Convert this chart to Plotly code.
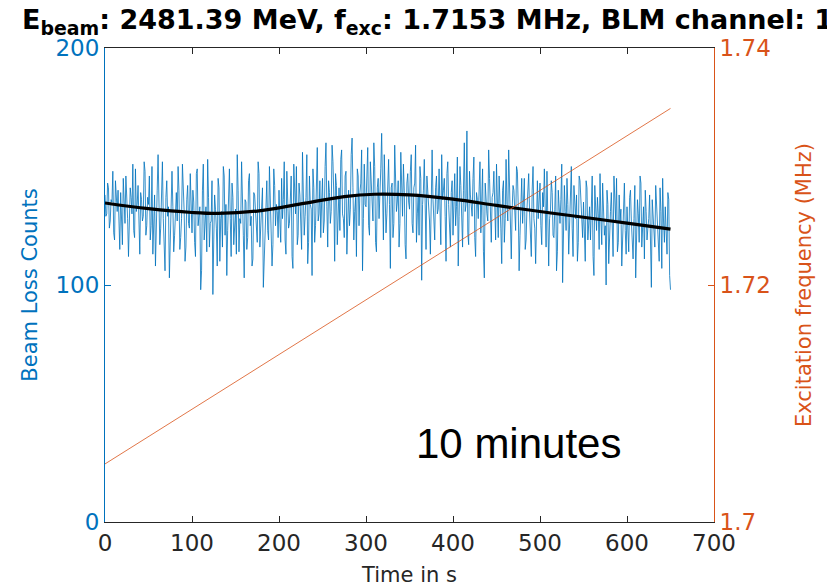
import plotly.graph_objects as go

# ---- data ----
# beam loss counts, sampled every second (even and odd seconds listed separately)
blm_even = [
    138, 130, 141, 127, 135, 122, 144, 131, 126, 139, 117, 133, 146, 128, 124, 137, 151, 120, 131, 142, 113, 136, 129, 148, 125,
    134, 119, 150, 127, 108, 140, 131, 124, 152, 118, 137, 129, 103, 145, 133, 121, 139, 150, 115, 128, 142, 110, 136, 126, 147,
    122, 135, 112, 149, 128, 98, 140, 119, 133, 153, 116, 127, 96, 138, 124, 145, 110, 131, 150, 121, 104, 136, 128, 143, 117,
    132, 155, 114, 126, 141, 103, 135, 120, 147, 129, 111, 138, 124, 152, 116, 133, 99, 127, 144, 119, 136, 108, 149, 125, 131,
    140, 118, 128, 152, 113, 137, 126, 146, 107, 133, 150, 121, 138, 115, 143, 129, 155, 118, 134, 104, 141, 125, 158, 130, 120,
    145, 127, 160, 116, 139, 131, 152, 110, 142, 135, 123, 157, 128, 146, 113, 140, 132, 162, 119, 137, 149, 125, 143, 106, 151,
    133, 158, 121, 141, 127, 150, 114, 145, 136, 164, 119, 139, 130, 153, 107, 143, 126, 148, 135, 116, 156, 129, 140, 111, 147,
    132, 155, 122, 143, 118, 138, 150, 102, 140, 128, 146, 135, 113, 157, 124, 141, 130, 149, 117, 136, 145, 110, 152, 127, 139,
    121, 147, 133, 108, 150, 126, 140, 131, 165, 117, 138, 129, 154, 112, 136, 143, 122, 149, 103, 135, 127, 145, 118, 139, 131,
    151, 120, 137, 109, 144, 128, 134, 157, 115, 132, 140, 123, 148, 106, 136, 126, 145, 119, 138, 131, 112, 150, 124, 135, 128,
    143, 117, 133, 125, 148, 108, 131, 139, 120, 146, 114, 129, 136, 101, 142, 123, 134, 127, 150, 112, 130, 138, 118, 144, 122,
    135, 110, 141, 126, 119, 146, 104, 132, 137, 115, 128, 143, 121, 100, 134, 125, 139, 112, 130, 145, 118, 127, 108, 136, 123,
    133, 114, 140, 121, 128, 103, 136, 118, 143, 126, 111, 131, 124, 138, 99, 129, 116, 135, 120, 141, 107, 127, 133, 113, 136,
    98,
]
blm_odd = [
    129, 143, 124, 136, 148, 119, 133, 140, 115, 131, 145, 126, 138, 112, 141, 130, 123, 149, 134, 118, 139, 127, 152, 121, 137,
    146, 125, 113, 138, 130, 155, 117, 141, 128, 106, 144, 133, 124, 148, 114, 136, 127, 140, 120, 151, 131, 116, 142, 124, 135,
    140, 118, 147, 125, 133, 106, 151, 129, 114, 137, 126, 144, 119, 132, 108, 141, 128, 116, 146, 134, 123, 149, 112, 137, 126,
    113, 140, 128, 152, 121, 136, 115, 144, 125, 108, 139, 131, 118, 147, 127, 141, 112, 135, 123, 150, 129, 117, 142, 134, 120,
    127, 145, 136, 119, 148, 124, 140, 112, 151, 130, 117, 143, 126, 156, 121, 137, 109, 146, 132, 149, 118, 139, 127, 144, 135,
    122, 150, 133, 144, 126, 159, 138, 147, 117, 141, 153, 130, 120, 148, 136, 125, 155, 141, 131, 112, 146, 139, 157, 128, 134,
    146, 125, 152, 132, 160, 118, 141, 128, 149, 137, 155, 122, 147, 134, 141, 120, 159, 131, 144, 126, 138, 151, 117, 143, 135,
    148, 126, 141, 159, 130, 121, 145, 134, 153, 115, 139, 127, 150, 136, 119, 146, 132, 124, 155, 140, 129, 147, 134, 116, 144,
    138, 125, 154, 129, 142, 116, 160, 134, 122, 148, 131, 145, 120, 139, 128, 152, 135, 114, 143, 130, 157, 124, 137, 148, 119,
    130, 146, 124, 140, 118, 153, 127, 136, 111, 142, 129, 150, 133, 121, 145, 138, 115, 132, 147, 123, 140, 128, 109, 144, 134,
    125, 139, 149, 116, 134, 128, 144, 121, 132, 106, 140, 126, 151, 119, 131, 145, 113, 137, 124, 142, 128, 110, 146, 133, 120,
    126, 144, 119, 133, 138, 112, 142, 123, 130, 147, 117, 134, 125, 140, 109, 131, 121, 146, 127, 114, 138, 132, 120, 143, 113,
    122, 137, 127, 111, 142, 124, 130, 146, 116, 133, 140, 119, 128, 106, 136, 123, 142, 126, 110, 131, 145, 118, 125, 139, 104,
]

t_smooth = [0, 50, 100, 130, 175, 225, 275, 310, 350, 400, 450, 500, 550, 600, 650]
smooth_counts = [134.6, 132.2, 130.6, 130.2, 131.2, 134.2, 137.3, 138.3, 138.0, 136.2, 133.6, 131.0, 128.6, 126.1, 123.6]

t_freq = [0, 650]
freq_mhz = [1.7049, 1.7349]

left_ticks = [0, 100, 200]
right_ticks = [1.70, 1.72, 1.74]
right_tick_labels = ["1.7", "1.72", "1.74"]
x_ticks = [0, 100, 200, 300, 400, 500, 600, 700]

# interleave even/odd seconds -> one sample per second, 0..650 s
blm_counts = []
for i, v in enumerate(blm_even):
    blm_counts.append(v)
    if i < len(blm_odd):
        blm_counts.append(blm_odd[i])
t_blm = list(range(len(blm_counts)))

BLUE = "#0072BD"
ORANGE = "#D95319"
DARK = "#262626"
FONT = "DejaVu Sans"

fig = go.Figure()
fig.add_trace(go.Scatter(x=t_freq, y=freq_mhz, mode="lines", yaxis="y2",
                         line=dict(color=ORANGE, width=0.8), showlegend=False))
fig.add_trace(go.Scatter(x=t_blm, y=blm_counts, mode="lines",
                         line=dict(color=BLUE, width=0.8), showlegend=False))
fig.add_trace(go.Scatter(x=t_smooth, y=smooth_counts, mode="lines",
                         line=dict(color="black", width=3.2, shape="spline"), showlegend=False))

fig.update_layout(
    width=827, height=588,
    margin=dict(l=105, r=113, t=48, b=66),
    paper_bgcolor="white", plot_bgcolor="white",
    font=dict(family=FONT, size=23, color=DARK),
    title=dict(text="E<sub>beam</sub>: 2481.39 MeV, f<sub>exc</sub>: 1.7153 MHz, BLM channel: 1",
               x=22/827, xanchor="left", xref="container", y=1 - 20/588, yanchor="middle",
               yref="container",
               font=dict(family=FONT, size=27, color="black", weight="bold")),
    xaxis=dict(range=[0, 700], tickvals=x_ticks, ticks="inside", ticklen=6,
               tickcolor=DARK, showline=True, linecolor=DARK, linewidth=1, mirror="ticks",
               showgrid=False, zeroline=False, automargin=False,
               tickfont=dict(size=23, color=DARK),
               title=dict(text="Time in s", font=dict(size=21, color=DARK), standoff=12)),
    yaxis=dict(range=[0, 200], tickvals=left_ticks, ticks="inside", ticklen=6,
               tickcolor=BLUE, showline=True, linecolor=BLUE, linewidth=1,
               showgrid=False, zeroline=False, automargin=False,
               tickfont=dict(size=23, color=BLUE),
               title=dict(text="Beam Loss Counts", font=dict(size=21, color=BLUE), standoff=12)),
    yaxis2=dict(range=[1.70, 1.74], tickvals=right_ticks, ticktext=right_tick_labels,
                overlaying="y", side="right", ticks="inside", ticklen=6,
                tickcolor=ORANGE, showline=True, linecolor=ORANGE, linewidth=1,
                showgrid=False, zeroline=False, automargin=False,
                tickfont=dict(size=23, color=ORANGE),
                title=dict(text="Excitation frequency (MHz)", font=dict(size=21, color=ORANGE), standoff=26)),
    annotations=[dict(text="10 minutes", x=475, y=33, xref="x", yref="y",
                      showarrow=False, font=dict(family="Liberation Sans", size=42, color="black"))],
)

fig.write_html("out.html")
